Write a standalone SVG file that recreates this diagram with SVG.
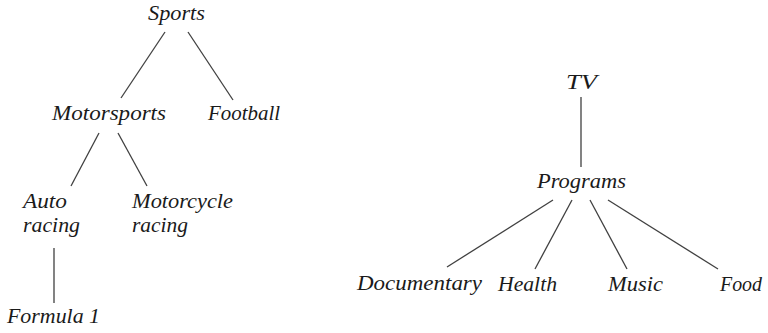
<svg xmlns="http://www.w3.org/2000/svg" width="768" height="333" viewBox="0 0 768 333">
<style>
text{font-family:"Liberation Serif","Times New Roman",serif;font-style:italic;font-size:22px;fill:#1a1a1a}
.e line{stroke:#404040;stroke-width:1.3}
</style>
<rect width="768" height="333" fill="#fff"/>
<g class="e" id="connectors">
<line x1="165" y1="32" x2="121" y2="98"/>
<line x1="188" y1="32" x2="233" y2="100"/>
<line x1="99" y1="133" x2="71" y2="186"/>
<line x1="118" y1="133" x2="147" y2="186"/>
<line x1="54" y1="248" x2="54" y2="303"/>
<line x1="581" y1="97" x2="581" y2="167"/>
<line x1="553" y1="200" x2="447" y2="267"/>
<line x1="572" y1="200" x2="535" y2="269"/>
<line x1="590" y1="200" x2="627" y2="269"/>
<line x1="608" y1="200" x2="718" y2="269"/>
</g>
<g id="sports"><text x="148" y="20" textLength="57" lengthAdjust="spacingAndGlyphs">Sports</text></g>
<g id="motorsports"><text x="52" y="120" textLength="114" lengthAdjust="spacingAndGlyphs">Motorsports</text></g>
<g id="football"><text x="208" y="120" textLength="72" lengthAdjust="spacingAndGlyphs">Football</text></g>
<g id="auto-racing"><text x="23" y="208" textLength="44" lengthAdjust="spacingAndGlyphs">Auto</text><text x="23" y="232" textLength="57" lengthAdjust="spacingAndGlyphs">racing</text></g>
<g id="motorcycle-racing"><text x="132" y="208" textLength="101" lengthAdjust="spacingAndGlyphs">Motorcycle</text><text x="132" y="232" textLength="56" lengthAdjust="spacingAndGlyphs">racing</text></g>
<g id="formula1"><text x="7" y="323" textLength="93" lengthAdjust="spacingAndGlyphs">Formula 1</text></g>
<g id="tv"><text x="566" y="89" textLength="31" lengthAdjust="spacingAndGlyphs">TV</text></g>
<g id="programs"><text x="537" y="188" textLength="89" lengthAdjust="spacingAndGlyphs">Programs</text></g>
<g id="documentary"><text x="357" y="290" textLength="125" lengthAdjust="spacingAndGlyphs">Documentary</text></g>
<g id="health"><text x="498" y="291" textLength="59" lengthAdjust="spacingAndGlyphs">Health</text></g>
<g id="music"><text x="608" y="291" textLength="55" lengthAdjust="spacingAndGlyphs">Music</text></g>
<g id="food"><text x="720" y="291" textLength="42" lengthAdjust="spacingAndGlyphs">Food</text></g>
</svg>
